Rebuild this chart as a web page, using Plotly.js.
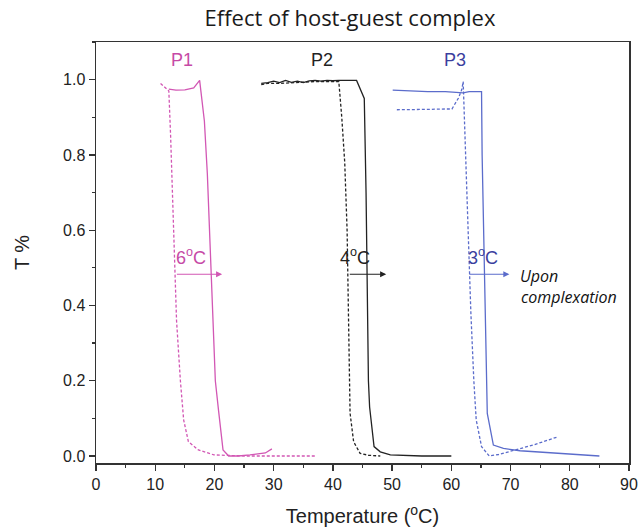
<!DOCTYPE html>
<html><head><meta charset="utf-8">
<script src="https://cdn.plot.ly/plotly-3.0.1.min.js"></script>
<style>html,body{margin:0;padding:0;background:#fff}#chart{width:641px;height:531px}</style>
</head><body><div id="chart"></div>
<script>
// P1
const p1SolidX = [12.3, 13.5, 15.0, 16.5, 17.5, 18.3, 18.8, 19.14, 19.45, 19.76, 20.15, 20.7, 21.45, 22.4, 24, 26, 28.6, 29.7];
const p1SolidY = [0.975, 0.972, 0.973, 0.978, 0.998, 0.89, 0.75, 0.60, 0.48, 0.36, 0.20, 0.12, 0.016, 0.0, 0.0, 0.003, 0.008, 0.019];
const p1DashX = [10.9, 11.6, 12.3, 12.6, 12.9, 13.2, 13.6, 14.25, 14.8, 15.6, 17.3, 19.9, 25, 30, 37];
const p1DashY = [0.99, 0.98, 0.97, 0.85, 0.70, 0.55, 0.36, 0.20, 0.096, 0.038, 0.016, 0.003, 0.0, 0.0, 0.0];
// P2
const p2SolidX = [27.9, 29, 30, 31, 32, 33, 34, 35, 36, 37, 38, 39, 40, 41, 44.0, 45.3, 45.6, 45.8, 46.0, 46.2, 46.95, 48, 49.7, 55, 60];
const p2SolidY = [0.99, 0.992, 0.996, 0.992, 0.998, 0.993, 0.996, 0.992, 0.997, 0.998, 0.996, 0.998, 0.997, 0.998, 0.998, 0.95, 0.70, 0.45, 0.20, 0.13, 0.025, 0.011, 0.003, 0.0, 0.0];
const p2DashX = [27.9, 29, 31, 33, 35, 37, 39, 41.0, 41.5, 42.0, 42.4, 42.6, 42.8, 42.9, 43.5, 44.6, 46, 48];
const p2DashY = [0.987, 0.99, 0.99, 0.992, 0.993, 0.995, 0.995, 0.995, 0.90, 0.78, 0.60, 0.40, 0.20, 0.114, 0.038, 0.007, 0.002, 0.0];
// P3
const p3SolidX = [50.1, 53, 56, 59, 62, 63, 65.1, 65.2, 65.5, 65.8, 65.97, 66.07, 67.1, 68.8, 71.6, 78, 85];
const p3SolidY = [0.972, 0.970, 0.968, 0.968, 0.965, 0.968, 0.968, 0.80, 0.55, 0.35, 0.20, 0.113, 0.029, 0.02, 0.014, 0.008, 0.0];
const p3DashX = [50.8, 53, 56, 59, 60.1, 61.2, 61.75, 62.0, 62.3, 62.6, 62.9, 63.3, 63.8, 64.2, 65.1, 66.4, 68, 71, 74, 77.8];
const p3DashY = [0.92, 0.92, 0.921, 0.922, 0.922, 0.951, 0.973, 0.995, 0.85, 0.70, 0.55, 0.38, 0.20, 0.096, 0.025, 0.0, 0.004, 0.016, 0.03, 0.05];

const xTicks = [0, 10, 20, 30, 40, 50, 60, 70, 80, 90];
const yTicks = [0.0, 0.2, 0.4, 0.6, 0.8, 1.0];
const seriesLabels = ['P1', 'P2', 'P3'];
const labelX = [14.5, 38.2, 60.6];
const shiftLabels = ['6<sup>o</sup>C', '4<sup>o</sup>C', '3<sup>o</sup>C'];
const shiftLabelX = [16.0, 43.8, 65.3];
const arrowFrom = [13.4, 42.6, 62.8];
const arrowTo = [21.3, 49.0, 69.8];
const arrowY = 0.483;

const pink = '#d257b4', pinkText = '#c64aa6';
const black = '#222222';
const blue = '#5b6ccb', blueText = '#3b3f9e';
const lineColors = [pink, black, blue];
const textColors = [pinkText, black, blueText];

function tr(x, y, color, dashed) {
  return {x: x, y: y, type: 'scatter', mode: 'lines', showlegend: false, hoverinfo: 'skip',
    line: {color: color, width: 1.3, dash: dashed ? '3px,2px' : 'solid'}};
}
const data = [
  tr(p1DashX, p1DashY, pink, true), tr(p1SolidX, p1SolidY, pink, false),
  tr(p2DashX, p2DashY, black, true), tr(p2SolidX, p2SolidY, black, false),
  tr(p3DashX, p3DashY, blue, true), tr(p3SolidX, p3SolidY, blue, false)
];

const annotations = [];
for (let i = 0; i < 3; i++) {
  annotations.push({x: labelX[i], y: 1.053, xref: 'x', yref: 'y', text: seriesLabels[i], showarrow: false,
    font: {family: 'Liberation Sans, Arial', size: 18, color: textColors[i]}});
  annotations.push({x: shiftLabelX[i], y: 0.53, xref: 'x', yref: 'y', text: shiftLabels[i], showarrow: false,
    font: {family: 'Liberation Sans, Arial', size: 18, color: textColors[i]}});
  annotations.push({x: arrowTo[i], y: arrowY, ax: arrowFrom[i], ay: arrowY, xref: 'x', yref: 'y', axref: 'x', ayref: 'y',
    text: '', showarrow: true, arrowhead: 2, arrowsize: 1.1, arrowwidth: 1.1, arrowcolor: lineColors[i]});
}
annotations.push({x: 71.3, y: 0.478, xref: 'x', yref: 'y', xanchor: 'left', text: '<i>Upon</i>', showarrow: false,
  font: {family: 'Open Sans', size: 16, color: '#111'}});
annotations.push({x: 71.4, y: 0.422, xref: 'x', yref: 'y', xanchor: 'left', text: '<i>complexation</i>', showarrow: false,
  font: {family: 'Open Sans', size: 16, color: '#111'}});

const axisCommon = {showgrid: false, zeroline: false, showline: true, linecolor: '#333', linewidth: 1.5, mirror: true,
  ticks: 'outside', ticklen: 6, tickwidth: 1.3, tickcolor: '#333',
  tickfont: {family: 'Liberation Sans, Arial', size: 16, color: '#222'}};

const layout = {
  width: 641, height: 531,
  margin: {l: 95.5, r: 12, t: 42, b: 68},
  paper_bgcolor: '#fff', plot_bgcolor: '#fff',
  title: {text: 'Effect of host-guest complex', xref: 'container', x: 0.546, xanchor: 'center', yref: 'container', y: 0.966, yanchor: 'middle',
    font: {family: 'Open Sans', size: 22, color: '#1a1a1a'}},
  xaxis: Object.assign({}, axisCommon, {range: [0, 90], tickvals: xTicks, ticktext: xTicks.map(String),
    minor: {ticks: 'outside', ticklen: 3, tickwidth: 1.2, tickcolor: '#333', dtick: 5},
    title: {text: 'Temperature (<sup>o</sup>C)', standoff: 17, font: {family: 'Liberation Sans, Arial', size: 20, color: '#222'}}}),
  yaxis: Object.assign({}, axisCommon, {range: [-0.0186, 1.1], tickvals: yTicks, ticktext: yTicks.map(v => v.toFixed(1)),
    minor: {ticks: 'outside', ticklen: 3, tickwidth: 1.2, tickcolor: '#333', dtick: 0.1, tick0: 0},
    title: {text: 'T %', standoff: 28, font: {family: 'Liberation Sans, Arial', size: 20, color: '#222'}}}),
  annotations: annotations
};
Plotly.newPlot('chart', data, layout, {displayModeBar: false, staticPlot: true});
</script></body></html>
